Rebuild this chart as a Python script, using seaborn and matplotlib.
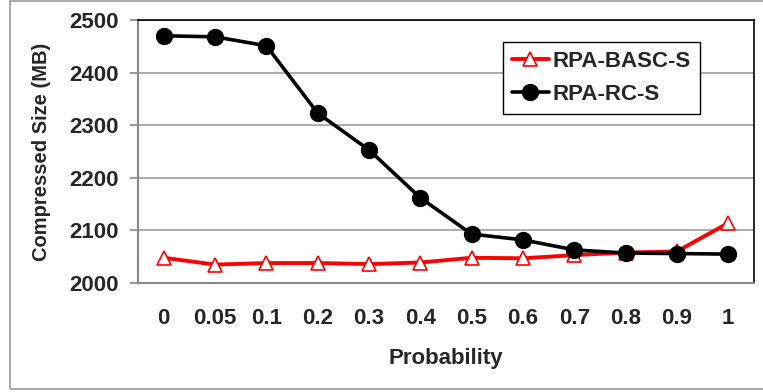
import matplotlib
matplotlib.use("Agg")
import matplotlib.pyplot as plt
import seaborn as sns
import pandas as pd

probabilities = ["0", "0.05", "0.1", "0.2", "0.3", "0.4", "0.5", "0.6", "0.7", "0.8", "0.9", "1"]
basc_sizes = [2048, 2035, 2038, 2038, 2036, 2039, 2048, 2047, 2053, 2058, 2060, 2114]
rc_sizes = [2470, 2468, 2451, 2323, 2253, 2162, 2093, 2082, 2063, 2057, 2056, 2055]
y_ticks = [2000, 2100, 2200, 2300, 2400, 2500]

sns.set_theme(style="white")
plt.rcParams["font.family"] = ["Liberation Sans", "DejaVu Sans"]
plt.rcParams["font.weight"] = "bold"

df_basc = pd.DataFrame({"Probability": probabilities, "Size": basc_sizes})
df_rc = pd.DataFrame({"Probability": probabilities, "Size": rc_sizes})

fig = plt.figure(figsize=(7.63, 3.92), dpi=100)
ax = fig.add_axes([0.181, 0.278, 0.807, 0.671])

sns.pointplot(data=df_basc, x="Probability", y="Size", order=probabilities,
              color="#ff0000", marker="^", markersize=10, linewidth=2.8,
              markerfacecolor="white", markeredgecolor="#ff0000",
              markeredgewidth=1.2, label="RPA-BASC-S", ax=ax, zorder=3)
sns.pointplot(data=df_rc, x="Probability", y="Size", order=probabilities,
              color="black", marker="o", markersize=10.5, linewidth=2.6,
              label="RPA-RC-S", ax=ax, zorder=4)

ax.set_ylim(2000, 2500)
ax.set_xlim(-0.5, len(probabilities) - 0.5)
ax.set_yticks(y_ticks)
ax.set_yticklabels([str(t) for t in y_ticks], fontsize=16, fontweight="bold")
ax.set_xticks(range(len(probabilities)))
ax.set_xticklabels(probabilities, fontsize=16, fontweight="bold")
ax.yaxis.grid(True, color="#a0a0a0", linewidth=1.2)
ax.xaxis.grid(False)
ax.set_axisbelow(True)

ax.tick_params(axis="y", which="both", left=True, length=6, width=1.2,
               color="#888888", pad=8)
ax.tick_params(axis="x", which="both", bottom=False, pad=12)

for side in ("left", "bottom"):
    ax.spines[side].set_color("#888888")
    ax.spines[side].set_linewidth(1.5)
for side in ("top", "right"):
    ax.spines[side].set_color("black")
    ax.spines[side].set_linewidth(1.2)

ax.set_xlabel("Probability", fontsize=16, fontweight="bold", labelpad=14)
ax.set_ylabel("Compressed Size (MB)", fontsize=14.5, fontweight="bold", labelpad=13)

leg = ax.legend(loc="upper left", bbox_to_anchor=(0.592, 0.916), borderaxespad=0,
                fancybox=False, framealpha=1, edgecolor="black",
                prop={"size": 16, "weight": "bold"}, handlelength=1.7,
                handletextpad=0.15, borderpad=0.4, labelspacing=0.55)
leg.get_frame().set_linewidth(1.0)

fig.patches.append(plt.Rectangle((0.013, 0.008), 1.0, 0.99, transform=fig.transFigure,
                                 fill=False, edgecolor="#999999", linewidth=1.2))

fig.savefig("out.png", dpi=100, facecolor="white")
